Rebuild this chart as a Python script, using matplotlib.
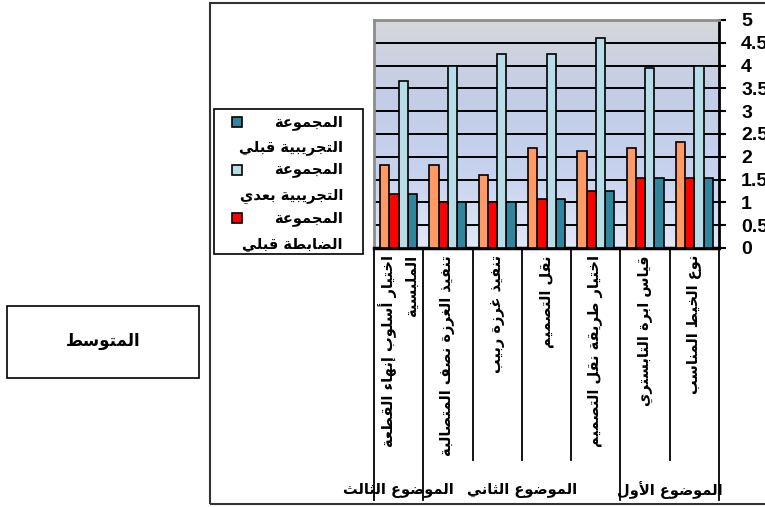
import numpy as np
import matplotlib
matplotlib.use('Agg')
import matplotlib.pyplot as plt
from matplotlib.colors import LinearSegmentedColormap
from matplotlib.patches import Rectangle

plt.rcParams['font.family'] = ['DejaVu Sans']

# categories (right to left on the chart)
categories = ['نوع الخيط المناسب', 'قياس ابرة التابستري', 'اختيار طريقة نقل التصميم',
              'نقل التصميم', 'تنفيذ غرزة ربيب', 'تنفيذ الغرزة نصف المتصالبة',
              'اختيار أسلوب إنهاء القطعة\nالملبسية']
exp_pre = [1.53, 1.53, 1.24, 1.07, 1.0, 1.0, 1.18]
exp_post = [4.0, 3.95, 4.6, 4.26, 4.26, 4.0, 3.67]
ctrl_pre = [1.53, 1.53, 1.24, 1.07, 1.0, 1.0, 1.18]
ctrl_post = [2.33, 2.2, 2.12, 2.2, 1.6, 1.82, 1.82]
series_names = ['المجموعة\nالتجريبية قبلي', 'المجموعة\nالتجريبية بعدي',
                'المجموعة\nالضابطة قبلي', 'المجموعة\nالضابطة بعدي']
series_colors = ['#31859C', '#B7DEE8', '#FF0000', '#FF9966']
groups = ['الموضوع الأول', 'الموضوع الثاني', 'الموضوع الثالث']
group_spans = [(0, 1), (2, 5), (6, 6)]
yticks = [0, 0.5, 1, 1.5, 2, 2.5, 3, 3.5, 4, 4.5, 5]
axis_title = 'المتوسط'

# --- very small arabic shaper (presentation forms B) ---
_letters = 'ءآأؤإئابةتثجحخدذرزسشصضطظعغفقكلمنهوىي'
_nforms = [1, 2, 2, 2, 2, 4, 2, 4, 2, 4, 4, 4, 4, 4, 2, 2, 2, 2,
           4, 4, 4, 4, 4, 4, 4, 4, 4, 4, 4, 4, 4, 4, 4, 2, 2, 4]
FORMS = {}
_code = 0xFE80
for ch, nf in zip(_letters, _nforms):
    FORMS[ch] = (_code, nf)
    _code += nf
LAM_ALEF = {'آ': 0xFEF5, 'أ': 0xFEF7, 'إ': 0xFEF9, 'ا': 0xFEFB}


def _shape_line(text):
    out = []
    prev = None
    i = 0
    n = len(text)
    while i < n:
        c = text[i]
        if c not in FORMS:
            out.append(c)
            prev = None
            i += 1
            continue
        linked = prev is not None and FORMS[prev][1] == 4
        if c == 'ل' and i + 1 < n and text[i + 1] in LAM_ALEF:
            out.append(chr(LAM_ALEF[text[i + 1]] + (1 if linked else 0)))
            prev = text[i + 1]
            i += 2
            continue
        code, nf = FORMS[c]
        before = linked and nf >= 2
        after = nf == 4 and i + 1 < n and text[i + 1] in FORMS and FORMS[text[i + 1]][1] >= 2
        k = 3 if (before and after) else 1 if before else 2 if after else 0
        out.append(chr(code + k))
        prev = c
        i += 1
    return ''.join(out)[::-1]


def ar(text):
    return '\n'.join(_shape_line(t) for t in text.split('\n'))


W, H = 765, 507
fig = plt.figure(figsize=(W / 100, H / 100), dpi=100)


def fx(px):
    return px / W


def fy(py):
    return 1 - py / H


# chart area border
fig.patches.append(Rectangle((fx(210), fy(504)), fx(800) - fx(210), fy(3) - fy(504),
                             transform=fig.transFigure, fill=False, edgecolor='#333333', lw=1.5))

ax = fig.add_axes([fx(374), fy(248), fx(719) - fx(374), fy(20) - fy(248)])

cmap = LinearSegmentedColormap.from_list('wall', ['#E2E8F6', '#C6D2EE', '#C3CDE6', '#D6D7DB'])
ax.imshow(np.linspace(0, 1, 256).reshape(-1, 1), extent=[-0.5, 6.5, 0, 5], origin='lower',
          cmap=cmap, aspect='auto', zorder=-1)

x = np.arange(len(categories))
w = 0.1875
series = [exp_pre, exp_post, ctrl_pre, ctrl_post]
offsets = [-1.5 * w, -0.5 * w, 0.5 * w, 1.5 * w]
for vals, col, off in zip(series, series_colors, offsets):
    ax.bar(x + off, vals, width=w, color=col, edgecolor='black', linewidth=1.2, zorder=3)

ax.set_xlim(6.5, -0.5)
ax.set_ylim(0, 5)
ax.set_xticks([])
ax.set_yticks(yticks)
ax.set_yticklabels([f'{t:g}' for t in yticks], fontfamily='Liberation Sans',
                   fontweight='bold', fontsize=14)
ax.yaxis.tick_right()
ax.tick_params(axis='y', direction='out', length=5, width=1.5, pad=11)
ax.set_axisbelow(True)
ax.yaxis.grid(True, color='black', lw=1.4)
ax.get_ygridlines()[-1].set_visible(False)

for s in ['left', 'top']:
    ax.spines[s].set_color('#8C8C8C')
    ax.spines[s].set_linewidth(2)
ax.spines['right'].set_linewidth(2)
ax.spines['bottom'].set_linewidth(2.5)

# category separators and labels below the axis
tr = ax.get_xaxis_transform()
ax_h = 248 - 20
group_edges = {-0.5, 6.5}
for a, b in group_spans:
    group_edges.add(a - 0.5)
    group_edges.add(b + 0.5)
for b in np.arange(-0.5, len(categories), 1.0):
    low = 500 if b in group_edges else 460
    ax.plot([b, b], [0, -(low - 248) / ax_h], transform=tr, color='black', lw=1.3, clip_on=False)

for i, cat in enumerate(categories):
    ax.text(i, -(255 - 248) / ax_h, ar(cat), transform=tr, rotation=90, ha='center', va='top',
            multialignment='right', fontsize=10.5, fontweight='bold', linespacing=1.6)

for name, (a, b) in zip(groups, group_spans):
    ax.text((a + b) / 2, -(490 - 248) / ax_h, ar(name), transform=tr, ha='center', va='center',
            fontsize=10.5, fontweight='bold', clip_on=False)

# legend (three entries shown in the original)
fig.patches.append(Rectangle((fx(214), fy(254)), fx(363) - fx(214), fy(109) - fy(254),
                             transform=fig.transFigure, facecolor='white', edgecolor='black', lw=1.2))
for k in range(3):
    y0 = 122 + 48 * k
    fig.patches.append(Rectangle((fx(232), fy(y0 + 5)), fx(242) - fx(232), fy(y0 - 5) - fy(y0 + 5),
                                 transform=fig.transFigure, facecolor=series_colors[k],
                                 edgecolor='black', lw=1.2))
    first, second = series_names[k].split('\n')
    fig.text(fx(343), fy(y0), ar(first), ha='right', va='center', fontsize=10.5, fontweight='bold')
    fig.text(fx(343), fy(y0 + 26), ar(second), ha='right', va='center', fontsize=10.5, fontweight='bold')

# value axis title box
fig.patches.append(Rectangle((fx(7), fy(378)), fx(199) - fx(7), fy(306) - fy(378),
                             transform=fig.transFigure, facecolor='white', edgecolor='black', lw=1.2))
fig.text(fx(103), fy(341), ar(axis_title), ha='center', va='center', fontsize=12, fontweight='bold')

fig.savefig('out.png', dpi=100)
